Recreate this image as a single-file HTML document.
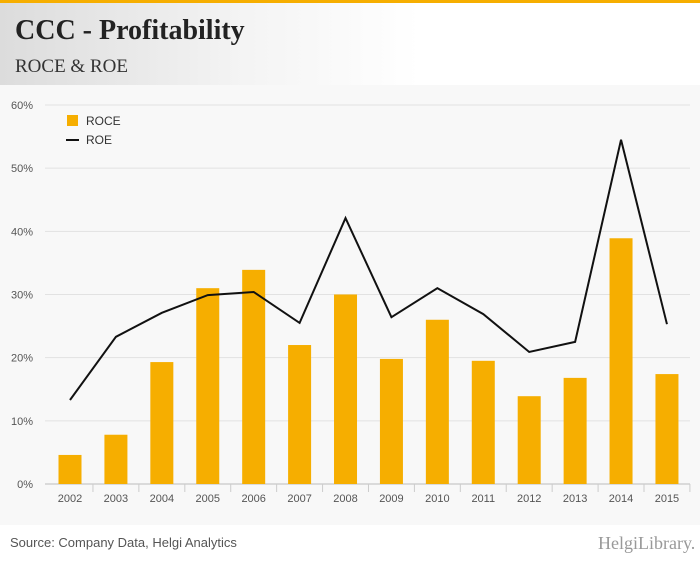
<!DOCTYPE html>
<html><head><meta charset="utf-8"><style>
body{margin:0;width:700px;height:568px;background:#fff;font-family:"Liberation Sans",sans-serif;overflow:hidden;position:relative}
#hdr{position:absolute;left:0;top:0;width:700px;height:85px;background:linear-gradient(90deg,#dcdcdc 0%,#f4f4f4 35%,#fff 60%);border-top:3px solid #f6ae00;box-sizing:border-box}
#title{position:absolute;left:15px;top:12px;font-family:"Liberation Serif",serif;font-weight:bold;font-size:28px;color:#222}
#sub{position:absolute;left:15px;top:53px;font-family:"Liberation Serif",serif;font-size:19px;color:#333}
#src{position:absolute;left:10px;top:535px;font-size:13px;color:#555}
#logo{position:absolute;left:598px;top:533px;font-family:"Liberation Serif",serif;font-size:18px;color:#999}
svg{position:absolute;left:0;top:85px}
</style></head><body>
<div id="hdr">
<div id="title">CCC - Profitability</div>
<div id="sub">ROCE &amp; ROE</div>
</div>
<svg id="chart" width="700" height="440"></svg>
<div id="src">Source: Company Data, Helgi Analytics</div>
<div id="logo">HelgiLibrary.</div>
<script>
const years=["2002","2003","2004","2005","2006","2007","2008","2009","2010","2011","2012","2013","2014","2015"];
const roce=[4.6,7.8,19.3,31,33.9,22,30,19.8,26,19.5,13.9,16.8,38.9,17.4];
const roe=[13.3,23.3,27.1,29.9,30.4,25.5,42.1,26.4,31,26.9,20.9,22.5,54.5,25.3];
const ticks=[0,10,20,30,40,50,60];
const NS="http://www.w3.org/2000/svg";
const svg=document.getElementById('chart');
const y0=399,k=6.317,x0=70,dx=45.92;
const Y=v=>y0-v*k, X=i=>x0+i*dx;
function mk(t,a){const e=document.createElementNS(NS,t);for(const n in a)e.setAttribute(n,a[n]);svg.appendChild(e);return e;}
const bg=mk('rect',{x:0,y:0,width:700,height:440,fill:'#f8f8f8'});


ticks.forEach(t=>{
 const l=mk('line',{x1:45,x2:690,y1:Y(t),y2:Y(t),stroke:t?'#e2e2e2':'#bbb','stroke-width':1});
 
 
 const tx=mk('text',{x:33,y:Y(t)+4,'font-size':11,fill:'#555','text-anchor':'end','font-family':'Liberation Sans'});
 tx.textContent=t+'%';
 
 
});
years.forEach((yr,i)=>{
 const b=mk('rect',{x:X(i)-11.5,y:Y(roce[i]),width:23,height:roce[i]*k,fill:'#f6ae00'});
 
 
 const tk=mk('line',{x1:X(i)+dx/2,x2:X(i)+dx/2,y1:y0,y2:y0+8,stroke:'#ccc'});
 
 
 const tx=mk('text',{x:X(i),y:y0+18,'font-size':11,fill:'#555','text-anchor':'middle','font-family':'Liberation Sans'});
 tx.textContent=yr;
 
 
});
const ln=mk('polyline',{points:roe.map((v,i)=>X(i)+','+Y(v)).join(' '),fill:'none',stroke:'#111','stroke-width':2});


const lg1=mk('rect',{x:67,y:30,width:11,height:11,fill:'#f6ae00'});


const lt1=mk('text',{x:86,y:40,'font-size':12,fill:'#333','font-family':'Liberation Sans'});lt1.textContent='ROCE';


const lg2=mk('line',{x1:66,x2:79,y1:55,y2:55,stroke:'#111','stroke-width':2});


const lt2=mk('text',{x:86,y:59,'font-size':12,fill:'#333','font-family':'Liberation Sans'});lt2.textContent='ROE';


</script>
</body></html>
